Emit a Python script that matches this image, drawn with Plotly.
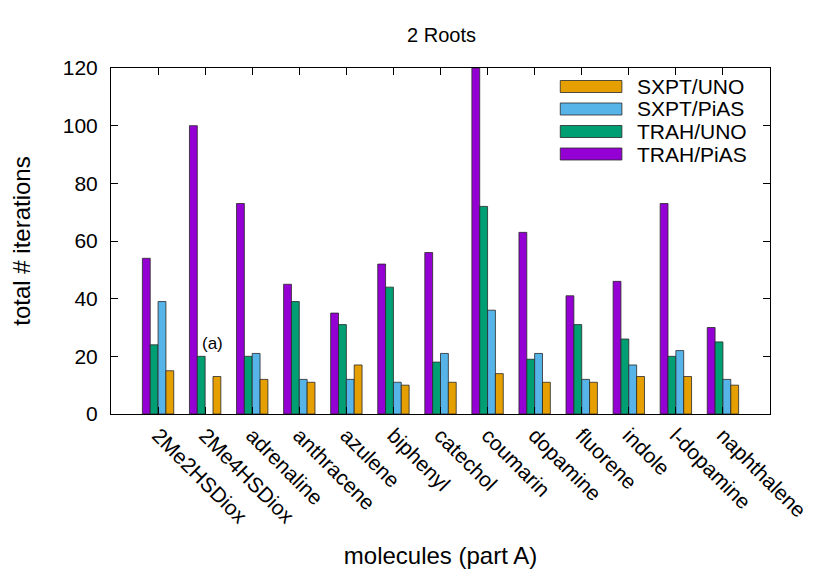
import plotly.graph_objects as go

molecules = ["2Me2HSDiox", "2Me4HSDiox", "adrenaline", "anthracene", "azulene",
             "biphenyl", "catechol", "coumarin", "dopamine", "fluorene",
             "indole", "l-dopamine", "naphthalene"]
trah_pias = [54, 100, 73, 45, 35, 52, 56, 120, 63, 41, 46, 73, 30]
trah_uno = [24, 20, 20, 39, 31, 44, 18, 72, 19, 31, 26, 20, 25]
sxpt_pias = [39, None, 21, 12, 12, 11, 21, 36, 21, 12, 17, 22, 12]
sxpt_uno = [15, 13, 12, 11, 17, 10, 11, 14, 11, 11, 13, 13, 10]

series = [
    ("TRAH/PiAS", trah_pias, "#9400D3"),
    ("TRAH/UNO", trah_uno, "#009E73"),
    ("SXPT/PiAS", sxpt_pias, "#56B4E9"),
    ("SXPT/UNO", sxpt_uno, "#E69F00"),
]

x_idx = list(range(len(molecules)))
OUTLINE = "rgba(40,40,40,0.8)"

fig = go.Figure()
for name, vals, col in series:
    fig.add_trace(go.Bar(
        x=x_idx, y=vals, name=name, showlegend=False,
        marker=dict(color=col, line=dict(color=OUTLINE, width=1)),
    ))

# plot area geometry (pixels)
L, T, PW, PH = 102, 60, 663, 346
W, H = 814, 570

def px_x(fx):
    return (fx - L) / PW

def px_y(fy):
    return 1 - (fy - T) / PH

# key (gnuplot-style, wide boxes), reversed series order
shapes = []
annotations = []
for i, (name, vals, col) in enumerate(reversed(series)):
    cy = 78.5 + 22.5 * i
    shapes.append(dict(type="rect", xref="paper", yref="paper",
                       x0=px_x(554), x1=px_x(616), y0=px_y(cy + 6), y1=px_y(cy - 6),
                       fillcolor=col, line=dict(color=OUTLINE, width=1)))
    annotations.append(dict(xref="paper", yref="paper", x=px_x(629), y=px_y(cy),
                            text=name, showarrow=False, xanchor="left",
                            yanchor="middle", font=dict(size=21)))

annotations.append(dict(x=1.15, y=24.6, text="(a)", showarrow=False,
                        font=dict(size=17), xanchor="center", yanchor="middle"))

font = "Liberation Sans, Arial, sans-serif"
fig.update_layout(
    width=W, height=H,
    margin=dict(l=L, r=W - L - PW, t=T, b=H - T - PH),
    paper_bgcolor="white", plot_bgcolor="white",
    barmode="group", bargap=1/3, bargroupgap=0,
    font=dict(family=font, size=20, color="black"),
    title=dict(text="2 Roots", x=(L + L + PW) / 2 / W, xanchor="center",
               y=1 - 27 / H, yanchor="middle", font=dict(size=20)),
    shapes=shapes,
    annotations=annotations,
    showlegend=False,
)
fig.update_xaxes(
    range=[-1, 13], tickmode="array", tickvals=x_idx, ticktext=molecules,
    tickangle=45, ticks="inside", ticklen=7, tickcolor="black",
    showline=True, linecolor="black", linewidth=1, mirror="ticks",
    showgrid=False, zeroline=False,
    title=dict(text="molecules (part A)", standoff=20),
    tickfont=dict(size=21),
)
fig.update_yaxes(
    range=[0, 120], tickmode="linear", tick0=0, dtick=20,
    ticks="inside", ticklen=7, tickcolor="black",
    showline=True, linecolor="black", linewidth=1, mirror="ticks",
    showgrid=False, zeroline=False, ticklabelstandoff=8,
    title=dict(text="total # iterations", standoff=26),
    tickfont=dict(size=21),
)

fig.write_html("out.html")
